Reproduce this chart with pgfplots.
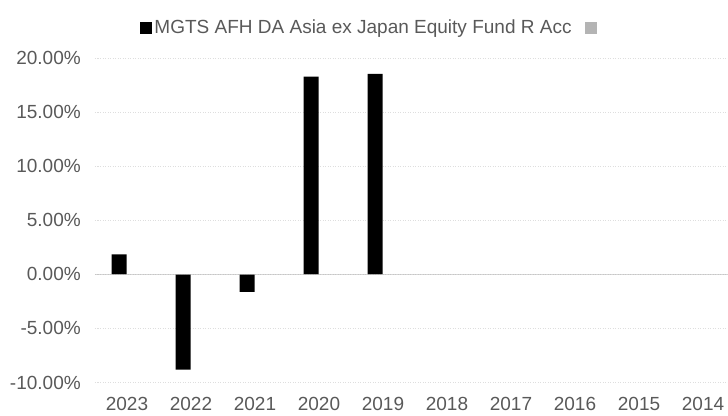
\documentclass[border=0pt]{standalone}
\usepackage{pgfplots}
\pgfplotsset{compat=1.18}
\usepackage{fontspec}
\setmainfont{Liberation Sans}
\definecolor{txt}{HTML}{595959}
\definecolor{lgray}{HTML}{B4B4B4}
\begin{document}
\fontsize{19}{22}\selectfont
\begin{tikzpicture}
\useasboundingbox (0,0) rectangle (728pt,415pt);
\begin{axis}[
  at={(95pt,32.5pt)}, anchor=south west,
  scale only axis, width=640pt, height=324.5pt,
  xmin=-0.5, xmax=9.5, ymin=-10, ymax=20,
  axis line style={draw=none},
  tick style={draw=none}, major tick length=0pt,
  ymajorgrids, grid style={dash pattern=on 1pt off 1.5pt, color=black!13},
  ytick={-10,-5,0,5,10,15,20},
  yticklabels={-10.00\%,-5.00\%,0.00\%,5.00\%,10.00\%,15.00\%,20.00\%},
  xtick={0,1,2,3,4,5,6,7,8,9},
  xticklabels={2023,2022,2021,2020,2019,2018,2017,2016,2015,2014},
  ticklabel style={font=\fontsize{19}{22}\selectfont, text=txt},
  xticklabel style={inner sep=0pt, text depth=0pt, yshift=-15pt},
  yticklabel style={xshift=-7.7pt},
  ybar, bar width=15pt,
  clip=false,
  legend columns=2,
  legend style={at={(0.4305,1.093)}, anchor=center, draw=none, fill=none,
    font=\fontsize{19}{22}\selectfont, text=txt,
    /tikz/every even column/.append style={column sep=11pt}},
  legend image code/.code={\fill[#1] (-1pt,-6pt) rectangle (11pt,6pt);},
]
\addplot[fill=black, draw=none, bar shift=-8pt] coordinates {(0,1.84) (1,-8.82) (2,-1.63) (3,18.28) (4,18.53)};
\addlegendentry{MGTS AFH DA Asia ex Japan Equity Fund R Acc}
\addlegendimage{fill=lgray, draw=none}
\addlegendentry{}
\draw[color=lgray, opacity=0.55, line width=1.6pt] (axis cs:-0.5,0) -- (axis cs:9.5,0);
\end{axis}
\end{tikzpicture}
\end{document}
